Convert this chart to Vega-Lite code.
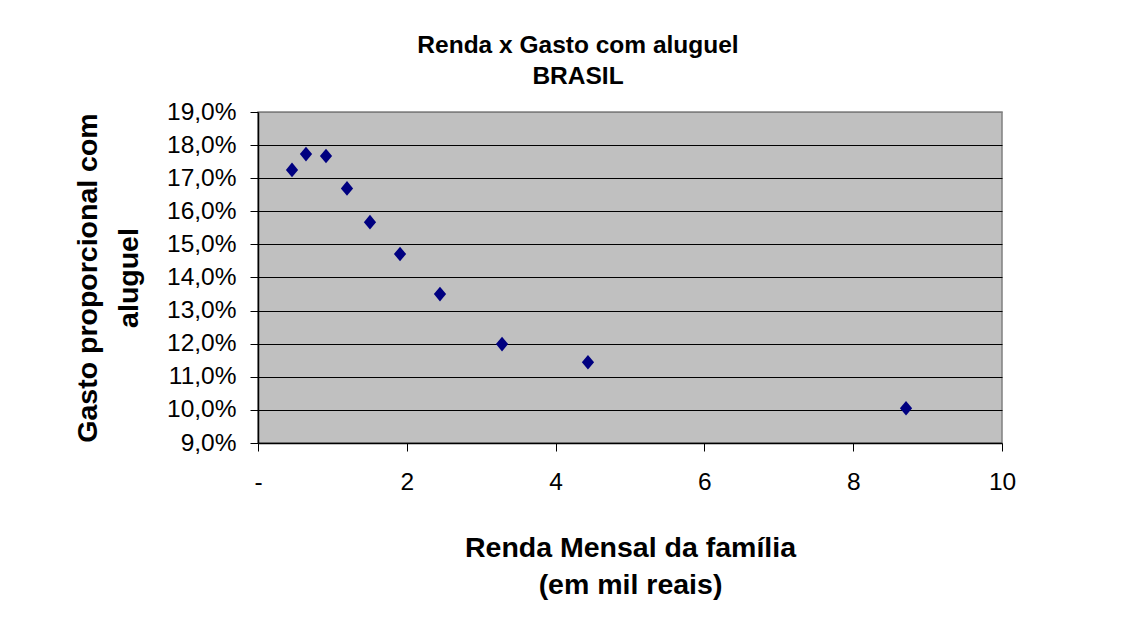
{
  "$schema": "https://vega.github.io/schema/vega-lite/v6.json",
  "autosize": {"type": "none"},
  "width": 744,
  "height": 331,
  "padding": {"left": 258, "top": 112, "right": 123, "bottom": 174},
  "background": "white",
  "title": {
    "text": ["Renda x Gasto com aluguel", "BRASIL"],
    "anchor": "middle",
    "frame": "group",
    "dx": -52,
    "font": "Liberation Sans",
    "fontSize": 24.5,
    "fontWeight": "bold",
    "color": "black",
    "lineHeight": 31,
    "offset": 10
  },
  "config": {
    "locale": {"number": {"decimal": ",", "thousands": ".", "grouping": [3], "currency": ["R$", ""]}},
    "view": {"fill": "#C0C0C0", "stroke": "#808080", "strokeWidth": 1.5},
    "font": "Liberation Sans"
  },
  "data": {
    "values": [
      {"renda": 0.457, "gasto": 0.1725},
      {"renda": 0.645, "gasto": 0.1773},
      {"renda": 0.914, "gasto": 0.1767},
      {"renda": 1.196, "gasto": 0.1669},
      {"renda": 1.505, "gasto": 0.1567},
      {"renda": 1.909, "gasto": 0.1471},
      {"renda": 2.446, "gasto": 0.1350},
      {"renda": 3.28, "gasto": 0.1199},
      {"renda": 4.435, "gasto": 0.1144},
      {"renda": 8.71, "gasto": 0.1005}
    ]
  },
  "mark": {"type": "point", "shape": "M0,-1.2L1,0L0,1.2L-1,0Z", "filled": true, "color": "#000080", "opacity": 1, "size": 150},
  "encoding": {
    "x": {
      "field": "renda",
      "type": "quantitative",
      "scale": {"domain": [0, 10], "nice": false, "zero": false},
      "axis": {
        "title": ["Renda Mensal da família", "(em mil reais)"],
        "titleFont": "Liberation Sans",
        "titleFontSize": 28.5,
        "titleFontWeight": "bold",
        "titleColor": "black",
        "titleLineHeight": 37,
        "titleBaseline": "alphabetic",
        "titleY": 113,
        "values": [0, 2, 4, 6, 8, 10],
        "labelExpr": "datum.value == 0 ? '-' : datum.label",
        "labelFontSize": 24.5,
        "labelColor": "black",
        "labelPadding": 19,
        "labelFlush": false,
        "labelOverlap": false,
        "tickSize": 8,
        "tickColor": "black",
        "domainColor": "black",
        "domainWidth": 1.5,
        "grid": false
      }
    },
    "y": {
      "field": "gasto",
      "type": "quantitative",
      "scale": {"domain": [0.09, 0.19], "nice": false, "zero": false},
      "axis": {
        "title": ["Gasto proporcional com", "aluguel"],
        "titleFont": "Liberation Sans",
        "titleFontSize": 28.5,
        "titleFontWeight": "bold",
        "titleColor": "black",
        "titleLineHeight": 41,
        "titleAngle": -90,
        "titleAlign": "center",
        "titleBaseline": "middle",
        "titleX": -171,
        "titleY": 165.5,
        "values": [0.09, 0.10, 0.11, 0.12, 0.13, 0.14, 0.15, 0.16, 0.17, 0.18, 0.19],
        "format": ".1%",
        "labelFontSize": 24.5,
        "labelColor": "black",
        "labelPadding": 14,
        "labelFlush": false,
        "labelOverlap": false,
        "tickSize": 8,
        "tickColor": "black",
        "domainColor": "black",
        "domainWidth": 1.5,
        "grid": true,
        "gridColor": {"condition": {"test": "datum.value > 0.1895 || datum.value < 0.0905", "value": "#808080"}, "value": "black"},
        "gridOpacity": 1,
        "gridWidth": 1
      }
    }
  }
}
